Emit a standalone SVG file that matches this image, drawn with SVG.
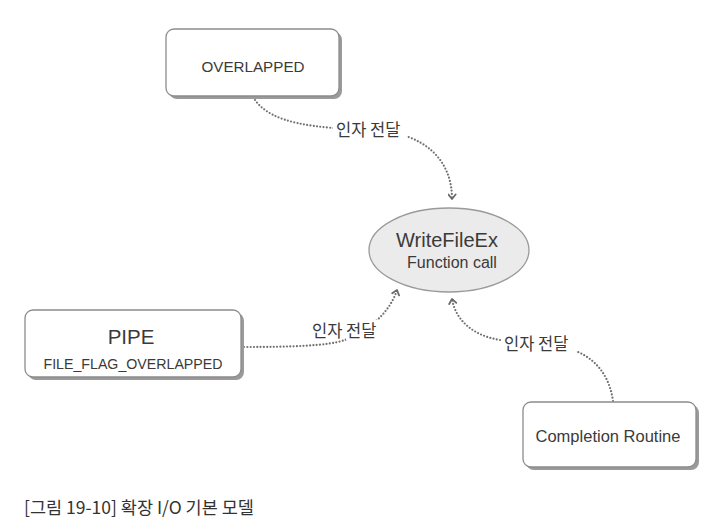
<svg xmlns="http://www.w3.org/2000/svg" width="721" height="532" viewBox="0 0 721 532">
<defs>
<style>
.box{fill:#ffffff;stroke:#8c8c8c;stroke-width:1.3}
.shadow{fill:#9a9a9a}
.lat{font-family:"Liberation Sans",Arial,sans-serif;fill:#3a3a3a;text-anchor:middle}
.kr{font-family:"Noto Sans CJK KR","Noto Sans",sans-serif;fill:#3a3a3a;font-size:16.5px}
.conn{fill:none;stroke:#707070;stroke-width:2.2;stroke-linecap:round;stroke-dasharray:0 3.3}
.lblbg{fill:#ffffff}
</style>
<marker id="arr" viewBox="0 0 10 10" refX="7" refY="5" markerWidth="9" markerHeight="9" markerUnits="userSpaceOnUse" orient="auto">
<path d="M2,1 L7,5 L2,9" fill="none" stroke="#6a6a6a" stroke-width="2" stroke-linecap="round" stroke-linejoin="round"/>
</marker>
</defs>
<rect width="721" height="532" fill="#ffffff"/>

<g id="connectors">
<path class="conn" d="M255,100 C272,124 315,128 370,130 S452,160 452,199" marker-end="url(#arr)"/>
<path class="conn" d="M244,347 C290,347 328,346 345,340 C370,330 390,312 397,290" marker-end="url(#arr)"/>
<path class="conn" d="M613,401 C610,380 600,362 578,352 L500,340 C475,336 456,322 452,299" marker-end="url(#arr)"/>
<rect class="lblbg" x="333" y="120" width="74" height="20"/>
<text class="kr" x="336" y="136">인자 전달</text>
<rect class="lblbg" x="346" y="320" width="40" height="20"/>
<text class="kr" x="312" y="337">인자 전달</text>
<rect class="lblbg" x="501" y="334" width="75" height="19"/>
<text class="kr" x="504" y="350">인자 전달</text>
</g>

<g id="overlapped">
<rect class="shadow" x="169" y="32" width="173" height="67" rx="8"/>
<rect class="box" x="166" y="29" width="173" height="67" rx="8"/>
<text class="lat" x="253" y="72" font-size="15.2">OVERLAPPED</text>
</g>

<g id="writefileex">
<ellipse cx="449" cy="250" rx="80" ry="42" fill="#ebebeb" stroke="#9a9a9a" stroke-width="1.3"/>
<text class="lat" x="447" y="247" font-size="20">WriteFileEx</text>
<text class="lat" x="452" y="268" font-size="16">Function call</text>
</g>

<g id="pipe">
<rect class="shadow" x="28" y="313" width="216" height="67" rx="8"/>
<rect class="box" x="25" y="310" width="216" height="67" rx="8"/>
<text class="lat" x="131" y="344" font-size="20.5">PIPE</text>
<text class="lat" x="133" y="369" font-size="14.2">FILE_FLAG_OVERLAPPED</text>
</g>

<g id="completion">
<rect class="shadow" x="526" y="405" width="173" height="65" rx="8"/>
<rect class="box" x="523" y="402" width="173" height="65" rx="8"/>
<text class="lat" x="608" y="442" font-size="16.5">Completion Routine</text>
</g>

<text x="24" y="514" font-family="'Noto Sans CJK KR','Noto Sans',sans-serif" font-size="17.5" fill="#333333">[그림 19-10] 확장 I/O 기본 모델</text>
</svg>
